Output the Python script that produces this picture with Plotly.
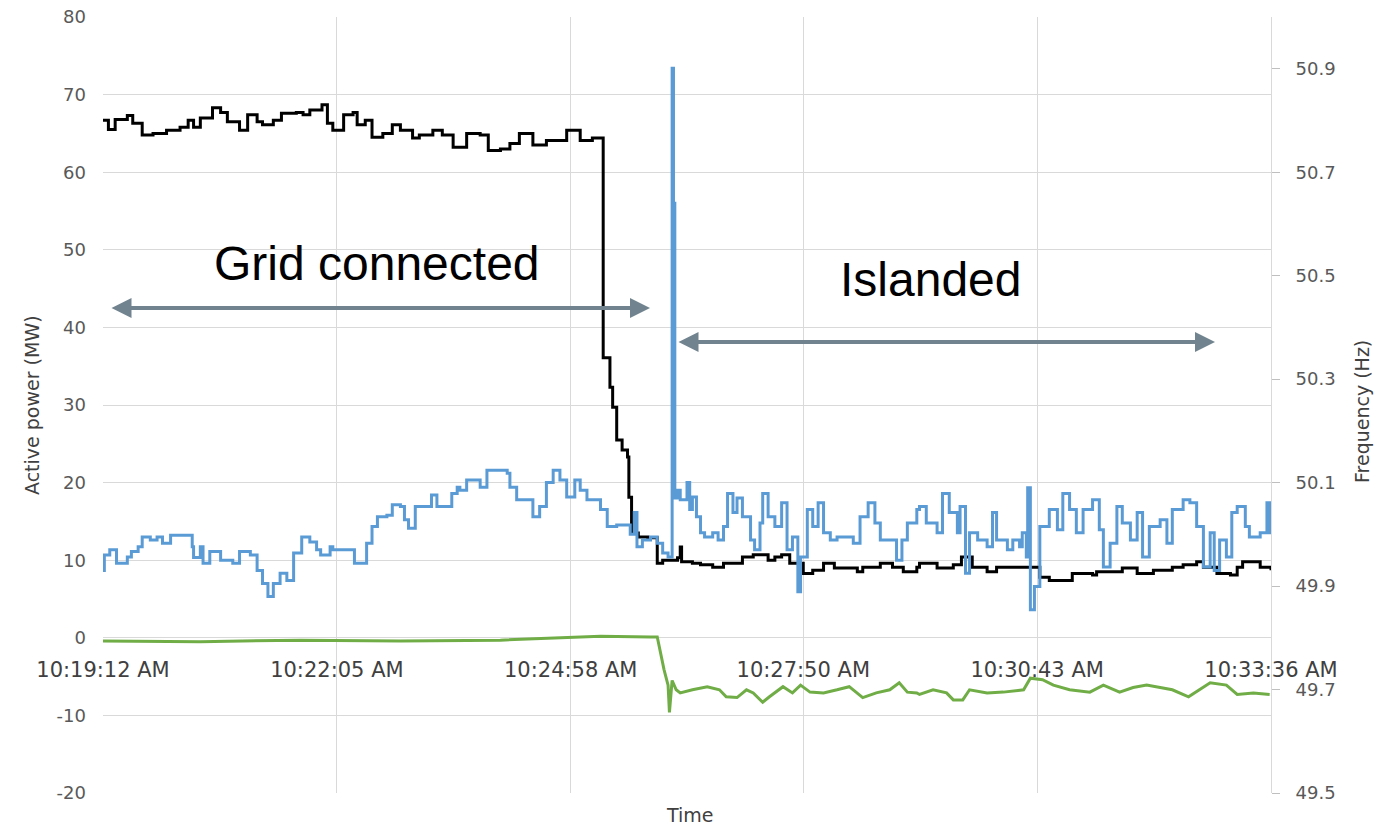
import pandas as pd
import plotly.graph_objects as go

# ---------------- data ----------------
START = "2019-01-01 10:19:12"
tick_labels = ["10:19:12 AM", "10:22:05 AM", "10:24:58 AM", "10:27:50 AM", "10:30:43 AM", "10:33:36 AM"]
tick_times = ["10:19:12", "10:22:05", "10:24:58", "10:27:50", "10:30:43", "10:33:36"]
mw_ticks = [-20, -10, 0, 10, 20, 30, 40, 50, 60, 70, 80]
mw_tick_labels = ["-20", "-10", "0", "10", "20", "30", "40", "50", "60", "70", "80"]
hz_ticks = [49.5, 49.7, 49.9, 50.1, 50.3, 50.5, 50.7, 50.9]
hz_tick_labels = ["49.5", "49.7", "49.9", "50.1", "50.3", "50.5", "50.7", "50.9"]

# Active power (MW) at the point of connection - black (seconds after 10:19:12)
p_sec = [0, 4, 9, 18, 22, 29, 37, 47, 57, 63, 67, 72, 81, 87, 92, 101, 107, 114, 118, 126,
         132, 143, 148, 153, 162, 166, 170, 178, 185, 188, 194, 199, 207, 214, 220, 229, 234,
         244, 251, 259, 269, 279, 285, 294, 301, 308, 318, 328, 343, 353, 362, 370, 375, 377,
         380, 384, 388, 389, 391, 396, 403, 410, 414, 425, 427, 428, 436, 442, 451, 459, 473,
         481, 492, 497, 502, 508, 518, 525, 533, 541, 558, 562, 575, 584, 592, 602, 604, 617,
         629, 635, 643, 654, 661, 678, 693, 700, 717, 732, 735, 754, 765, 777, 791, 799, 809,
         814, 824, 834, 839, 843, 856, 864]
p_mw = [66.7, 65.5, 66.8, 67.3, 66.3, 64.8, 65.0, 65.4, 65.8, 66.7, 65.8, 67.0, 68.3, 67.7,
        66.5, 65.4, 67.4, 66.5, 66.1, 66.7, 67.6, 67.7, 67.4, 68.0, 68.7, 66.3, 65.4, 67.4,
        67.7, 66.1, 66.7, 64.5, 65.0, 66.1, 65.4, 64.4, 64.8, 65.4, 64.8, 63.2, 65.0, 64.8,
        62.8, 63.0, 63.7, 65.0, 63.5, 64.1, 65.4, 64.1, 64.4, 36.1, 32.3, 29.7, 25.5, 24.2,
        23.3, 18.1, 13.5, 13.0, 12.9, 9.6, 10.0, 10.3, 11.7, 9.8, 9.6, 9.4, 9.1, 9.6, 10.4,
        10.7, 10.0, 10.4, 10.7, 9.6, 8.3, 8.7, 9.6, 9.0, 8.5, 9.1, 9.6, 9.1, 8.5, 9.1, 9.6,
        9.0, 9.4, 10.4, 9.1, 8.5, 9.1, 9.1, 7.8, 7.4, 8.3, 8.1, 8.5, 9.0, 8.3, 8.7, 9.1, 9.4,
        9.8, 9.1, 8.3, 8.1, 9.1, 9.8, 9.1, 8.7]

# Frequency (Hz) - blue, right axis
f_sec = [0, 1, 5, 10, 18, 21, 26, 29, 35, 40, 44, 50, 66, 67, 72, 74, 79, 87, 96, 101, 109,
         114, 118, 122, 126, 131, 136, 141, 147, 153, 158, 161, 168, 170, 186, 195, 199, 203,
         210, 214, 220, 223, 226, 231, 243, 247, 258, 262, 264, 269, 279, 284, 299, 301, 306,
         318, 323, 328, 333, 338, 343, 349, 353, 358, 368, 373, 380, 390, 393, 395, 399, 405,
         410, 414, 418, 421, 422, 423, 425, 427, 432, 434, 436, 439, 442, 445, 451, 455, 459,
         462, 466, 469, 473, 479, 482, 486, 488, 492, 497, 502, 506, 510, 514, 516, 521, 525,
         529, 533, 538, 543, 555, 560, 566, 571, 575, 587, 591, 595, 602, 604, 609, 617, 621,
         626, 632, 634, 638, 641, 647, 654, 658, 661, 669, 673, 678, 680, 683, 684, 686, 689,
         693, 700, 706, 710, 715, 720, 725, 732, 737, 740, 745, 750, 754, 760, 765, 769, 774,
         782, 787, 791, 799, 804, 809, 814, 819, 822, 826, 831, 835, 839, 845, 848, 856, 861,
         863, 864]
f_hz = [49.930, 49.960, 49.970, 49.944, 49.956, 49.967, 49.976, 49.995, 49.989, 49.995,
        49.983, 49.998, 49.976, 49.955, 49.976, 49.944, 49.967, 49.950, 49.944, 49.967,
        49.960, 49.930, 49.905, 49.880, 49.905, 49.925, 49.911, 49.964, 49.995, 49.985,
        49.970, 49.960, 49.976, 49.970, 49.944, 49.983, 50.015, 50.034, 50.037, 50.057,
        50.054, 50.028, 50.012, 50.054, 50.076, 50.054, 50.079, 50.091, 50.085, 50.105,
        50.091, 50.124, 50.118, 50.091, 50.067, 50.034, 50.054, 50.100, 50.124, 50.105,
        50.072, 50.105, 50.085, 50.067, 50.048, 50.015, 50.018, 50.000, 50.042, 49.976,
        49.989, 49.995, 49.983, 49.964, 49.956, 50.901, 50.640, 50.070, 50.085, 50.067,
        50.100, 50.048, 50.072, 50.034, 50.003, 49.995, 50.003, 49.989, 50.015, 50.079,
        50.042, 50.070, 50.034, 49.989, 49.970, 50.022, 50.079, 50.034, 50.015, 50.061,
        49.970, 49.995, 49.889, 49.956, 50.048, 50.015, 50.061, 50.003, 49.989, 49.995,
        49.983, 50.034, 50.061, 50.022, 49.989, 49.950, 49.989, 50.022, 50.048, 50.054,
        50.022, 50.003, 50.079, 50.042, 50.003, 50.054, 49.925, 50.003, 49.989, 49.976,
        50.042, 49.989, 49.970, 49.989, 49.976, 50.003, 49.956, 50.090, 49.854, 49.899,
        50.015, 50.048, 50.009, 50.079, 50.048, 50.003, 50.048, 50.067, 50.009, 49.937,
        49.983, 50.054, 50.022, 49.989, 50.042, 49.956, 50.015, 50.028, 49.983, 50.048,
        50.067, 50.061, 50.015, 49.937, 50.003, 49.930, 49.989, 49.956, 50.042, 50.054,
        50.015, 49.995, 50.003, 50.061, 50.003, 50.003]

# Active power exchanged by the storage (MW) - green
g_sec = [0, 72, 146, 220, 294, 338, 368, 405, 410, 415, 418, 419, 421, 424, 427, 436, 447,
         456, 461, 469, 476, 481, 488, 493, 503, 510, 516, 523, 533, 543, 552, 562, 572, 582,
         589, 595, 602, 604, 614, 624, 629, 636, 641, 654, 666, 681, 686, 695, 703, 715, 730,
         740, 752, 762, 772, 782, 791, 803, 811, 819, 831, 839, 851, 863]
g_mw = [-0.4, -0.5, -0.3, -0.4, -0.3, 0.0, 0.2, 0.1, 0.1, -4.1, -6.1, -9.6, -5.5, -6.7,
        -7.1, -6.7, -6.3, -6.7, -7.6, -7.7, -6.7, -7.1, -8.3, -7.6, -6.3, -7.1, -6.1, -7.0,
        -7.1, -6.7, -6.3, -7.7, -7.1, -6.7, -5.8, -7.0, -7.1, -7.3, -6.7, -7.1, -8.0, -8.0,
        -6.7, -7.1, -7.0, -6.7, -5.2, -5.4, -6.1, -6.7, -7.0, -6.1, -7.0, -6.4, -6.1, -6.4,
        -6.7, -7.6, -6.7, -5.8, -6.1, -7.3, -7.1, -7.3]

# ---------------- figure ----------------
t0 = pd.Timestamp(START)
def to_time(secs):
    return [t0 + pd.Timedelta(seconds=s) for s in secs]

day = t0.strftime("%Y-%m-%d")
tick_vals = [pd.Timestamp(day + " " + t) for t in tick_times]

W, H = 1386, 827
L, R, T, B = 103, 1271, 17, 793
pw, ph = R - L, B - T
def px(x):
    return (x - L) / pw
def py(y):
    return (B - y) / ph

fig = go.Figure()
fig.add_trace(go.Scatter(x=to_time(g_sec), y=g_mw, mode="lines",
                         line=dict(color="#70AD47", width=3), name="Storage", yaxis="y"))
fig.add_trace(go.Scatter(x=to_time(f_sec), y=f_hz, mode="lines",
                         line=dict(color="#5B9BD5", width=3, shape="hv"), name="Frequency",
                         yaxis="y2"))
fig.add_trace(go.Scatter(x=to_time(p_sec), y=p_mw, mode="lines",
                         line=dict(color="#000000", width=3, shape="hv"), name="Active power",
                         yaxis="y"))

grid = "#d9d9d9"
tickfont = dict(family="DejaVu Sans", size=18, color="#595959")

fig.update_layout(
    width=W, height=H,
    margin=dict(l=L, r=W - R, t=T, b=H - B, autoexpand=False),
    paper_bgcolor="white", plot_bgcolor="white",
    showlegend=False,
    xaxis=dict(
        type="date",
        range=[t0, t0 + pd.Timedelta(seconds=864)],
        tickvals=tick_vals, ticktext=tick_labels,
        showgrid=True, gridcolor=grid, gridwidth=1,
        anchor="free", position=0.2,
        showline=False, zeroline=False,
        ticks="", ticklabelstandoff=17,
        tickfont=dict(family="DejaVu Sans", size=21, color="#404040"),
    ),
    yaxis=dict(
        range=[-20, 80], tickvals=mw_ticks, ticktext=mw_tick_labels,
        showgrid=True, gridcolor=grid, gridwidth=1,
        zeroline=False, showline=False, ticks="",
        ticklabelstandoff=16, tickfont=tickfont,
    ),
    yaxis2=dict(
        overlaying="y", side="right",
        range=[49.5, 51.0],
        tickvals=hz_ticks, ticktext=hz_tick_labels,
        showgrid=False, zeroline=False,
        showline=True, linecolor=grid, linewidth=1,
        ticks="outside", ticklen=8, tickcolor="#bfbfbf",
        ticklabelstandoff=12, tickfont=tickfont,
    ),
)

def text_ann(text, x, y, font, angle=0):
    fig.add_annotation(text=text, xref="paper", yref="paper", x=px(x), y=py(y),
                       xanchor="center", yanchor="middle", textangle=angle,
                       showarrow=False, font=font)

title_font = dict(family="DejaVu Sans", size=19, color="#404040")
text_ann("Active power (MW)", 32, 405, title_font, -90)
text_ann("Frequency (Hz)", 1362, 412, title_font, -90)
text_ann("Time", 690, 815, title_font)

label_font = dict(family="Liberation Sans", size=48, color="#000000")
text_ann("Grid connected", 377, 263, label_font)
text_ann("Islanded", 930, 279, label_font)

arrow_color = "#71838E"
for (x1, x2, yy) in [(110, 650, 308), (677, 1215, 342)]:
    fig.add_annotation(text="", xref="paper", yref="paper",
                       x=px(x2), y=py(yy), ax=x1 - x2, ay=0,
                       showarrow=True, arrowside="end+start",
                       arrowhead=2, startarrowhead=2,
                       arrowsize=1, startarrowsize=1,
                       arrowwidth=4, arrowcolor=arrow_color)

fig.write_html("out.html", post_script="document.body.style.margin='0';",
               config={"displayModeBar": False})
